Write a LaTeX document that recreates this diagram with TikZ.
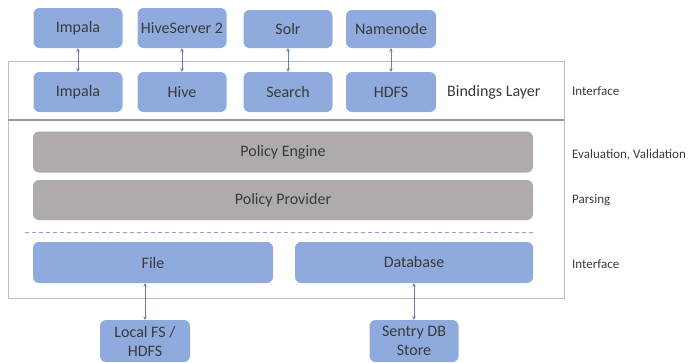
\documentclass[tikz,border=0pt]{standalone}
\usepackage{fontspec}
\setmainfont{Carlito}
\usetikzlibrary{arrows.meta}
\definecolor{bluebox}{HTML}{8FAADC}
\definecolor{graybox}{HTML}{AFABAB}
\definecolor{txt}{HTML}{3A3A3A}
\definecolor{frame}{HTML}{BFBFBF}
\definecolor{arrowc}{HTML}{6A7FA8}
\tikzset{
  bbox/.style={fill=bluebox, draw=none, rounded corners=6pt, text=txt, font=\fontsize{16}{19}\selectfont, align=center, inner sep=0pt},
  gbox/.style={fill=graybox, draw=none, rounded corners=6pt, text=txt, font=\fontsize{16}{19}\selectfont, inner sep=0pt},
  side/.style={text=txt, font=\fontsize{13}{15}\selectfont, anchor=west, inner sep=0pt},
  link/.style={draw=arrowc, line width=0.9pt, {Stealth[length=3.5pt,width=3.5pt]}-{Stealth[length=3.5pt,width=3.5pt]}}
}
\begin{document}
\begin{tikzpicture}[x=1pt,y=-1pt]
\useasboundingbox (0,0) rectangle (689,362);
% outer frame
\draw[frame, line width=0.8pt] (8,61) rectangle (564,298);
\draw[color=gray!80, line width=1.6pt] (8,120) -- (564,120);
% top boxes
\node[bbox, minimum width=89pt, minimum height=40pt] (impT) at (78,28) {Impala};
\node[bbox, minimum width=89pt, minimum height=40pt] (hs2) at (182,28) {HiveServer 2};
\node[bbox, minimum width=89pt, minimum height=38pt] (solr) at (288,29) {Solr};
\node[bbox, minimum width=90pt, minimum height=38pt] (nn) at (391,29) {Namenode};
% bindings
\node[bbox, minimum width=89pt, minimum height=40pt] (impB) at (78,92) {Impala};
\node[bbox, minimum width=89pt, minimum height=40pt] (hive) at (182,92) {Hive};
\node[bbox, minimum width=89pt, minimum height=40pt] (search) at (288,92) {Search};
\node[bbox, minimum width=90pt, minimum height=40pt] (hdfs) at (391,92) {HDFS};
\node[text=txt, font=\fontsize{16}{19}\selectfont, anchor=west, inner sep=0pt] (bl) at (447,92) {Bindings Layer};
\draw[link] (impT) -- (impB);
\draw[link] (hs2) -- (hive);
\draw[link] (solr) -- (search);
\draw[link] (nn) -- (hdfs);
% policy
\node[gbox, minimum width=500pt, minimum height=41pt] (pe) at (283,152) {Policy Engine};
\node[gbox, minimum width=500pt, minimum height=40pt] (pp) at (283,200) {Policy Provider};
\coordinate (dl) at (25,232);
\coordinate (dr) at (535,232);
\draw[bluebox!80!gray, line width=1pt, dash pattern=on 4pt off 3pt] (dl) -- (dr);
% storage
\node[bbox, minimum width=240pt, minimum height=41pt] (file) at (153,262.5) {File};
\node[bbox, minimum width=238pt, minimum height=41pt] (db) at (414,262.5) {Database};
\node[bbox, minimum width=90pt, minimum height=42pt] (lfs) at (145,341) {Local FS /\\HDFS};
\node[bbox, minimum width=89pt, minimum height=42pt] (sdb) at (414,341) {Sentry DB\\Store};
\draw[link] (file.south -| lfs.north) -- (lfs.north);
\draw[link] (db) -- (sdb);
% side labels
\node[side] (s1) at (572,91) {Interface};
\node[side] (s2) at (572,155) {Evaluation, Validation};
\node[side] (s3) at (572,200) {Parsing};
\node[side] (s4) at (572,264) {Interface};
\end{tikzpicture}
\end{document}
